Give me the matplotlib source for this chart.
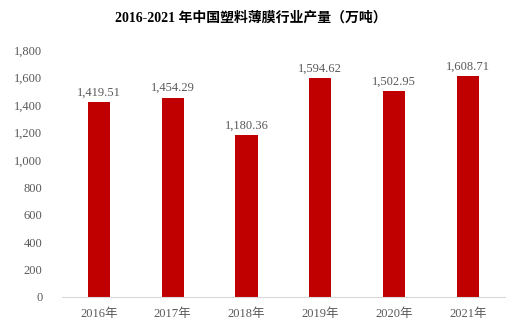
import matplotlib.pyplot as plt

years = ["2016年", "2017年", "2018年", "2019年", "2020年", "2021年"]
output = [1419.51, 1454.29, 1180.36, 1594.62, 1502.95, 1608.71]

plt.rcParams['font.family'] = ['Liberation Serif', 'Noto Sans CJK SC']

fig = plt.figure(figsize=(5.12, 3.34), dpi=100)
ax = fig.add_axes([0.121, 0.111, 0.865, 0.739])

x = range(len(years))
bars = ax.bar(x, output, width=0.3, color="#C00000")
for xi, v in zip(x, output):
    ax.text(xi, v + 25, f"{v:,.2f}", ha="center", va="bottom",
            fontsize=9, color="#595959")

ax.set_xlim(-0.5, len(years) - 0.5)
ax.set_ylim(0, 1800)
ax.set_yticks(range(0, 1801, 200))
ax.set_yticklabels([f"{t:,}" for t in range(0, 1801, 200)])
ax.set_xticks(list(x))
ax.set_xticklabels(years)
ax.tick_params(axis="both", length=0, labelsize=9, colors="#595959")
ax.tick_params(axis="y", pad=14)
ax.tick_params(axis="x", pad=8)

for side in ["top", "right", "left"]:
    ax.spines[side].set_visible(False)
ax.spines["bottom"].set_color("#D9D9D9")

fig.text(0.49, 0.945, "2016-2021 年中国塑料薄膜行业产量（万吨）", ha="center",
         va="center", fontsize=10, fontweight="bold", color="black")

fig.savefig("out.png", dpi=100)
